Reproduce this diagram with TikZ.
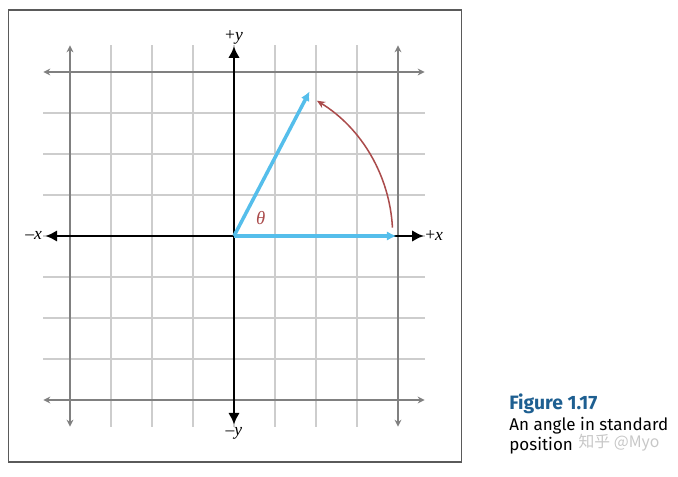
\documentclass[tikz,border=0pt]{standalone}
\usepackage{fontspec}
\setsansfont{Fira Sans}
\newfontfamily\labelfont{Liberation Serif}
\newfontfamily\cjkfont{Noto Sans CJK SC}
\usetikzlibrary{arrows.meta}

\definecolor{gridgray}{RGB}{205,205,205}
\definecolor{outergray}{RGB}{128,128,128}
\definecolor{framegray}{RGB}{90,90,90}
\definecolor{vecblue}{RGB}{85,190,235}
\definecolor{arcred}{RGB}{170,75,75}
\definecolor{capblue}{RGB}{30,95,145}

\begin{document}
\begin{tikzpicture}
        [x=1.23cm, y=1.23cm, every node/.style={inner sep=0}, gridline/.style={gridgray, line width=1.1pt}, outerline/.style={outergray, line width=1.6pt, {Stealth[length=6pt,width=6pt]}-{Stealth[length=6pt,width=6pt]}}, axisline/.style={black, line width=2.5pt, {Latex[length=10pt,width=10pt]}-{Latex[length=10pt,width=10pt]}}, vector/.style={vecblue, line width=3pt, -{Latex[length=8pt,width=8pt]}}, axislabel/.style={font=\labelfont\fontsize{15}{17}\selectfont}, caption/.style={anchor=base west, font=\sffamily\fontsize{14.5}{17}\selectfont}]

        \useasboundingbox (-5.707,-5.854) rectangle (10.829,5.756);
        \draw[framegray, line width=1pt] (-5.49,-5.51) rectangle (5.54,5.51);

        % grid
        \foreach \k in {-3,...,3} {
          \draw[gridline] (\k,-4.65) -- (\k,4.65);
          \draw[gridline] (-4.65,\k) -- (4.65,\k);
        }
        \foreach \k in {-4,4} {
          \draw[outerline] (\k,-4.65) -- (\k,4.65);
          \draw[outerline] (-4.65,\k) -- (4.65,\k);
        }

        % axes
        \coordinate (o) at (0, 0);
        \coordinate (xl) at (-4.6, 0);
        \coordinate (xr) at (4.63, 0);
        \coordinate (yb) at (0, -4.6);
        \coordinate (yt) at (0, 4.63);
        \draw[axisline] (xl) -- (xr);
        \draw[axisline] (yb) -- (yt);

        \node[axislabel, anchor=west] (px) at (4.66, 0.02) {+\textit{x}};
        \node[axislabel, anchor=east] (mx) at (-4.68, 0.02) {\textendash\textit{x}};
        \node[axislabel, anchor=south] (py) at (0, 4.68) {+\textit{y}};
        \node[axislabel, anchor=north] (my) at (0, -4.66) {\textendash\textit{y}};

        % angle
        \coordinate (r) at (3.96, 0);
        \coordinate (t) at (62.4:3.98);
        \draw[vector] (o) -- (r);
        \draw[vector] (o) -- (t);
        \draw[arcred, line width=1.3pt, -{Stealth[length=7pt,width=6pt]}] (3:3.87) arc[start angle=3, end angle=58.5, radius=3.87];
        \node[axislabel, text=arcred, font=\labelfont\itshape\fontsize{16}{18}\selectfont] (theta) at (0.65, 0.45) {θ};

        % caption
        \node[caption, text=capblue, font=\sffamily\bfseries\fontsize{16.5}{19}\selectfont] (fignum) at (6.71, -4.24) {Figure 1.17};
        \node[caption] (capone) at (6.71, -4.74) {An angle in standard};
        \node[caption] (captwo) at (6.71, -5.24) {position};
        \node[anchor=base west, text=black!22, font=\cjkfont\fontsize{13.5}{16}\selectfont] (mark) at (8.4, -5.17) {知乎 @Myo};

      \end{tikzpicture}
\end{document}
